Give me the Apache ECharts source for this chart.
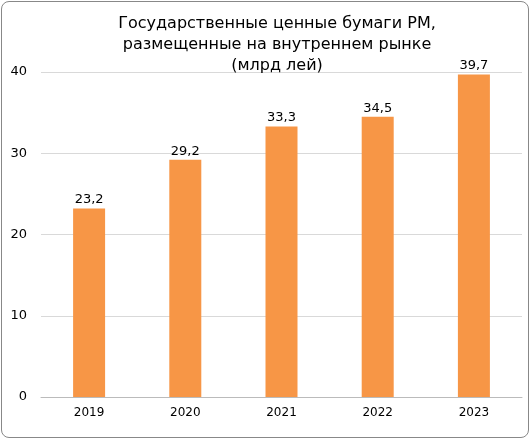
<!DOCTYPE html>
<html><head><meta charset="utf-8">
<script src="https://cdn.jsdelivr.net/npm/echarts@6/dist/echarts.min.js"></script>
<style>html,body{margin:0;padding:0;background:#fff}
#main{position:absolute;left:1px;top:1px;width:528px;height:437px;border:1px solid #888;border-radius:8px;box-sizing:border-box}</style>
</head><body><div id="main"></div>
<script>
const titleLines = ['Государственные ценные бумаги РМ,', 'размещенные на внутреннем рынке', '(млрд лей)'];
const years = ['2019', '2020', '2021', '2022', '2023'];
const values = [23.2, 29.2, 33.3, 34.5, 39.7];
const yTicks = { min: 0, max: 40, interval: 10 };

const chart = echarts.init(document.getElementById('main'));
chart.setOption({
  animation: false,
  title: {
    text: titleLines.join('\n'), left: 270, top: 6, textAlign: 'center',
    textStyle: { fontFamily: 'DejaVu Sans', fontSize: 16, fontWeight: 'normal', color: '#000', lineHeight: 21 }
  },
  grid: { left: 39, right: 6, top: 70, bottom: 40 },
  xAxis: {
    type: 'category', data: years,
    axisLine: { lineStyle: { color: '#bbb' } }, axisTick: { show: false },
    axisLabel: { color: '#000', fontFamily: 'DejaVu Sans', fontSize: 12, margin: 10 }
  },
  yAxis: {
    type: 'value', min: yTicks.min, max: yTicks.max, interval: yTicks.interval,
    axisLine: { show: false }, axisTick: { show: false },
    splitLine: { lineStyle: { color: '#d9d9d9' } },
    axisLabel: { color: '#000', fontFamily: 'DejaVu Sans', fontSize: 13, margin: 14 }
  },
  series: [{
    type: 'bar', data: values, barWidth: 32,
    itemStyle: { color: '#F79646' },
    label: {
      show: true, position: 'top', distance: 2, color: '#000', fontFamily: 'DejaVu Sans', fontSize: 13,
      formatter: p => String(p.value).replace('.', ',')
    }
  }]
});
</script></body></html>
